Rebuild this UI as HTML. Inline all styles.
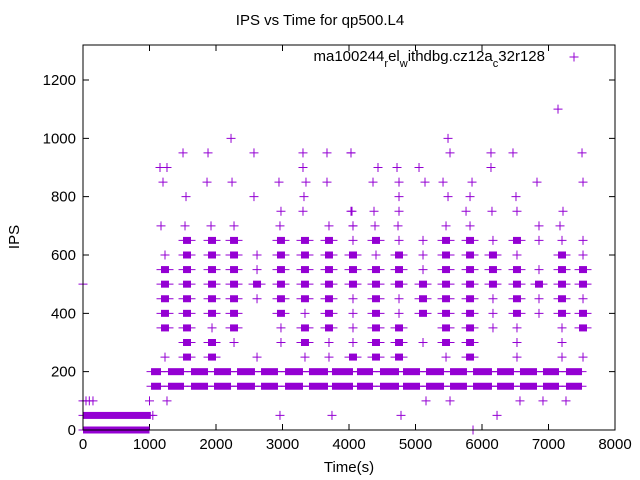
<!DOCTYPE html>
<html><head><meta charset="utf-8"><style>
body{margin:0;background:#fff}
svg{display:block;font-family:"Liberation Sans",sans-serif}
</style></head><body>
<svg id="chart" width="640" height="480" viewBox="0 0 640 480" xmlns="http://www.w3.org/2000/svg">
<rect width="640" height="480" fill="#fff"/>
<text x="320" y="25" text-anchor="middle" font-size="15">IPS vs Time for qp500.L4</text>
<text transform="translate(19,237) rotate(-90)" text-anchor="middle" font-size="15">IPS</text>
<text x="349" y="472" text-anchor="middle" font-size="15">Time(s)</text>
<g id="axes"></g>
<g id="marks" fill="#9400d3" stroke="#9400d3"></g>
<g>
<text x="545" y="61" text-anchor="end" font-size="15">ma100244<tspan baseline-shift="sub" font-size="11">r</tspan>el<tspan baseline-shift="sub" font-size="11">w</tspan>ithdbg.cz12a<tspan baseline-shift="sub" font-size="11">c</tspan>32r128</text>
<path d="M569.5 57H578.5M574 52.5V61.5" stroke="#9400d3" stroke-width="1"/>
</g>
<rect x="83" y="45" width="532" height="385" fill="none" stroke="#000" stroke-width="1"/>
</svg>
<script>
const xTicks=[0,1000,2000,3000,4000,5000,6000,7000,8000];
const yTicks=[0,200,400,600,800,1000,1200];
const levels=[650,600,550,500,450,400,350,300,250];
const colTimes=[1233,1564,1940,2271,2617,2977,3338,3699,4060,4406,4752,5113,5459,5820,6165,6526,6857,7203,7519];
const colDensity=["012222201","222222222","222222122","222222210","011210001","222222110","222221221","222222211","122211112","212222222","122211222","111222010","222222221","222222222","122211100","212222111","101211000","122222111","112212201"];
const upperT=[2226,1504,1880,2571,3308,3669,4030,1158,1263,3308,1203,1865,2241,2947,3353,3669,1549,2571,3323,2977,3308,4030,1173,1534,1925,2271,2962,3699,4060,7143,5489,4030,5519,6135,6466,7504,4436,4722,5053,6135,4361,4752,5143,5414,5850,6827,7519,4752,5489,5820,6511,4045,4376,4752,5760,6150,6526,7218,4060,4391,4737,5459,5820,6857,7173,0,0,45,95,150,1000,1263,5158,5519,6571,6917,7263,2962,3744,4782,6226,1050,5865];
const upperV=[1000,950,950,950,950,950,950,900,900,900,850,850,850,850,850,850,800,800,800,750,750,750,700,700,700,700,700,700,700,1100,1000,950,950,950,950,950,900,900,900,900,850,850,850,850,850,850,850,800,800,800,800,750,750,750,750,750,750,750,700,700,700,700,700,700,700,500,100,100,100,100,100,100,100,100,100,100,100,50,50,50,50,50,0];
const bandSegStart=[1023,1278,1624,1970,2316,2677,3038,3398,3744,4120,4466,4812,5158,5519,5865,6226,6571,6917,7263];
const bandSegEnd=[1173,1519,1880,2226,2586,2932,3308,3684,4060,4361,4752,5068,5429,5774,6150,6481,6827,7158,7504];
const bandLevels=[150,200];
const lowBandLevels=[0,50];
const lowBandEnd=[1000,1020];

const X=t=>83+t*0.0665, Y=v=>430-v*385/1320;
const NS="http://www.w3.org/2000/svg";
const axes=document.getElementById('axes'), marks=document.getElementById('marks');
function mk(tag,attrs,parent){const e=document.createElementNS(NS,tag);for(const k in attrs)e.setAttribute(k,attrs[k]);parent.appendChild(e);return e;}
xTicks.forEach(t=>{
  const g=mk('g',{},axes);
  
  
  mk('path',{d:`M${X(t)} 430v-6M${X(t)} 45v6`,stroke:'#000'},g);
  const tx=mk('text',{x:X(t),y:449,'text-anchor':'middle','font-size':15},g);tx.textContent=t;
});
yTicks.forEach(v=>{
  const g=mk('g',{},axes);
  
  
  mk('path',{d:`M83 ${Y(v)}h6M615 ${Y(v)}h-6`,stroke:'#000'},g);
  const tx=mk('text',{x:76,y:Y(v)+5,'text-anchor':'end','font-size':15},g);tx.textContent=v;
});
function plus(t,v){
  const p=mk('path',{d:`M${X(t)-4.5} ${Y(v)}h9M${X(t)} ${Y(v)-4.5}v9`,'stroke-width':1,fill:'none'},marks);
  
  
}
function block(t1,t2,v){
  const r=mk('rect',{x:X(t1),y:Y(v)-3.5,width:X(t2)-X(t1),height:7,stroke:'none'},marks);
  
  
  const l=mk('path',{d:`M${X(t1)-4.5} ${Y(v)}H${X(t2)+4.5}`,'stroke-width':1,fill:'none'},marks);
  
  
}
colTimes.forEach((t,i)=>{
  levels.forEach((v,j)=>{
    const d=colDensity[i][j];
    if(d==='1')plus(t,v);
    else if(d==='2'){block(t-60,t+60,v);}
  });
});
upperT.forEach((t,i)=>plus(t,upperV[i]));
bandLevels.forEach(v=>{
  const l=mk('path',{d:`M${X(bandSegStart[0])} ${Y(v)}H${X(bandSegEnd[bandSegEnd.length-1])}`,'stroke-width':1},marks);
  
  
  bandSegStart.forEach((s,i)=>block(s,bandSegEnd[i],v));
});
lowBandLevels.forEach((v,i)=>block(0,lowBandEnd[i],v));
</script>
</body></html>
